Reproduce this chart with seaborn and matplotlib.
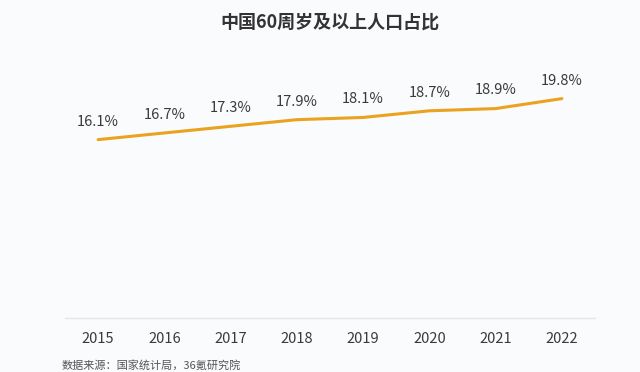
import matplotlib
matplotlib.use("Agg")
import matplotlib.pyplot as plt
import seaborn as sns
import pandas as pd

years = ["2015", "2016", "2017", "2018", "2019", "2020", "2021", "2022"]
share = [16.1, 16.7, 17.3, 17.9, 18.1, 18.7, 18.9, 19.8]
labels = ["16.1%", "16.7%", "17.3%", "17.9%", "18.1%", "18.7%", "18.9%", "19.8%"]
title = "中国60周岁及以上人口占比"
source = "数据来源：国家统计局，36氪研究院"

sns.set_theme(style="white")
plt.rcParams["font.family"] = ["Noto Sans CJK SC", "DejaVu Sans"]

bg = "#fafbfd"
fig = plt.figure(figsize=(6.4, 3.72), dpi=100, facecolor=bg)
ax = fig.add_axes([65 / 640, 54 / 372, 530 / 640, 277 / 372], facecolor=bg)

df = pd.DataFrame({"year": years, "share": share})
sns.lineplot(data=df, x="year", y="share", ax=ax, color="#EBA21E", linewidth=2.2, sort=False)

ax.set_xlim(-0.5, 7.5)
ax.set_ylim(0, 25)
for i, (v, lab) in enumerate(zip(share, labels)):
    ax.annotate(lab, (i, v), xytext=(0, 8), textcoords="offset points",
                ha="center", va="bottom", fontsize=10.5, color="#3a3a3a",
                fontweight="light")

for s in ["top", "right", "left"]:
    ax.spines[s].set_visible(False)
ax.spines["bottom"].set_color("#e6e6e6")
ax.spines["bottom"].set_linewidth(1)
ax.set_yticks([])
ax.set_xlabel("")
ax.set_ylabel("")
ax.tick_params(axis="x", length=0, pad=10, labelsize=10.5, labelcolor="#3a3a3a")
for t in ax.get_xticklabels():
    t.set_fontweight("light")

fig.text(330 / 640, 1 - 22 / 372, title, ha="center", va="center",
         fontsize=13, fontweight="bold", color="#333333")
fig.text(62 / 640, 1 / 372, source, ha="left", va="bottom", fontsize=8, color="#555555")

fig.savefig("out.png", dpi=100, facecolor=bg)
